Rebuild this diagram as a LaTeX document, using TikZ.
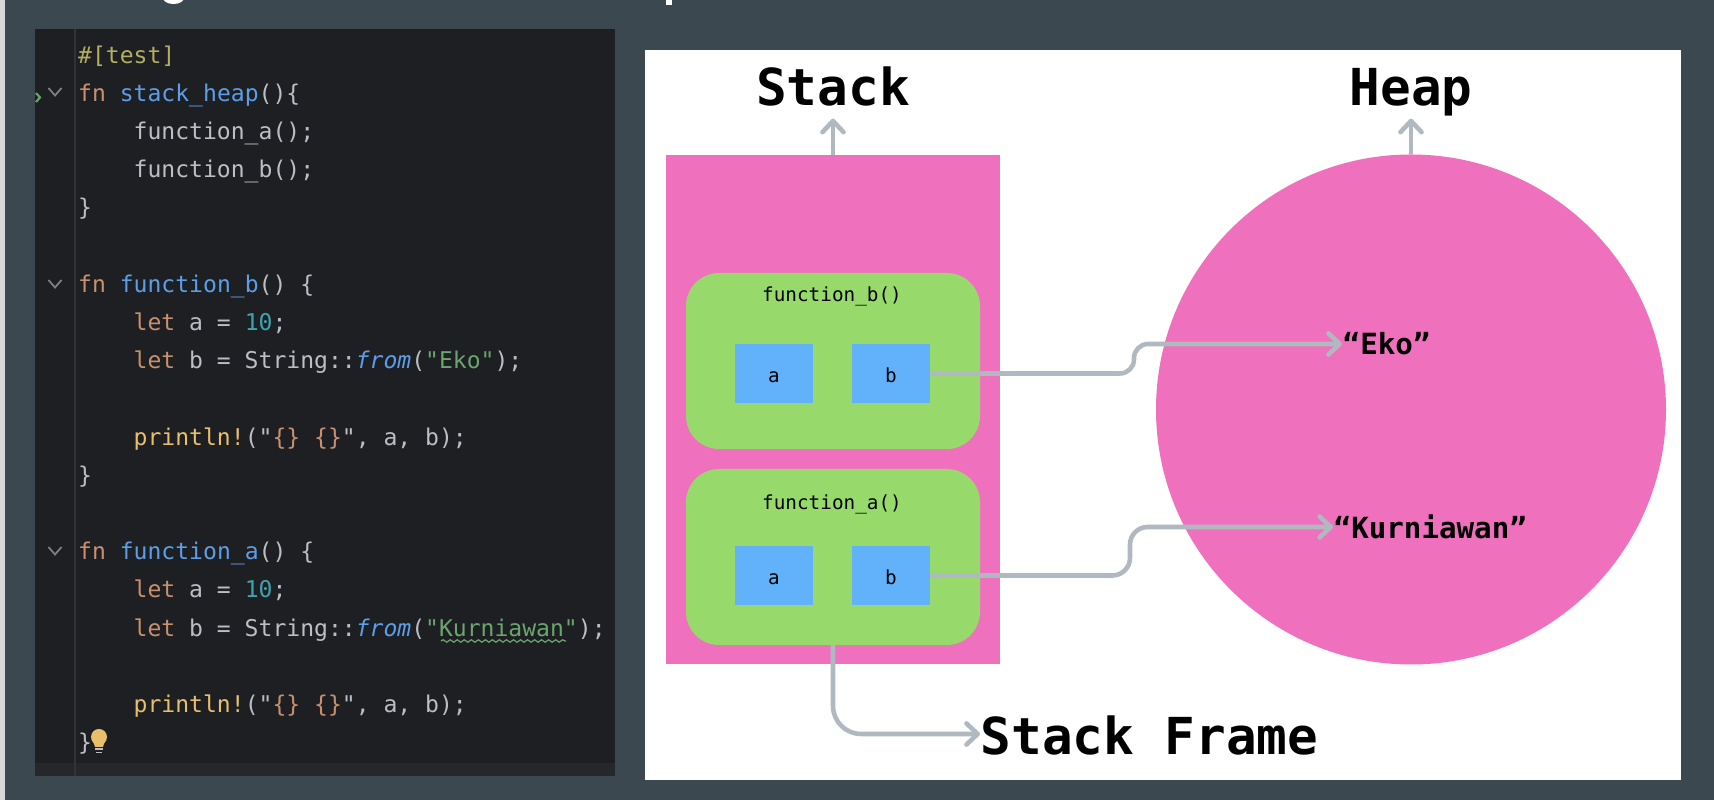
\documentclass[tikz,border=0pt]{standalone}
\usepackage{fontspec}
\setmonofont{DejaVu Sans Mono}
\usetikzlibrary{arrows.meta,decorations.pathmorphing}
\definecolor{slidebg}{HTML}{3C4850}
\definecolor{editorbg}{HTML}{1E1F23}
\definecolor{editorline}{HTML}{26272B}
\definecolor{guttercol}{HTML}{313338}
\definecolor{plaincol}{HTML}{BCBEC4}
\definecolor{kwcol}{HTML}{C8906E}
\definecolor{fncol}{HTML}{5C9EE8}
\definecolor{attrcol}{HTML}{B3AE60}
\definecolor{strcol}{HTML}{6AA56F}
\definecolor{numcol}{HTML}{3FA3AE}
\definecolor{maccol}{HTML}{E8BF6A}
\definecolor{stackpink}{HTML}{EF70BD}
\definecolor{framegreen}{HTML}{97D96B}
\definecolor{varblue}{HTML}{61B2FB}
\definecolor{linkgray}{HTML}{B0B8C0}
\tikzset{
    codeline/.style={anchor=base west, inner sep=0pt, text=plaincol, yshift=-0.012cm,
        font=\ttfamily\fontsize{6.56}{8}\selectfont},
    box/.style={inner sep=0pt, outer sep=0pt},
    stackframe/.style={box, fill=framegreen, rounded corners=9.4pt,
        minimum width=2.94cm, minimum height=1.76cm},
    varbox/.style={box, fill=varblue, minimum width=0.78cm, minimum height=0.59cm,
        text height=5pt, text depth=0pt,
        font=\ttfamily\fontsize{5.5}{7}\selectfont},
    smalllabel/.style={inner sep=0pt, font=\ttfamily\fontsize{5.5}{7}\selectfont},
    biglabel/.style={inner sep=0pt, font=\ttfamily\bfseries\fontsize{14.5}{16}\selectfont},
    heaplabel/.style={inner sep=0pt, anchor=west, font=\ttfamily\bfseries\fontsize{8.3}{10}\selectfont},
    link/.style={draw=linkgray, line width=1.3pt,
        -{Straight Barb[length=3.2pt,width=6pt,round]}},
}
\newcommand{\kw}[1]{\textcolor{kwcol}{#1}}
\newcommand{\fn}[1]{\textcolor{fncol}{#1}}
\newcommand{\str}[1]{\textcolor{strcol}{#1}}
\newcommand{\num}[1]{\textcolor{numcol}{#1}}
\newcommand{\mac}[1]{\textcolor{maccol}{#1}}
\newcommand{\fromcall}{\textcolor{fncol}{\itshape from}}
\begin{document}
\begin{tikzpicture}
    \useasboundingbox (0, 0) rectangle (17.14, 8);

    % Slide
    \fill[slidebg] (0, 0) rectangle (17.14, 8);
    \fill[gray!30] (0, 0) rectangle (0.05, 8);
    \fill[white] (1.735, 8.02) ellipse (0.105 and 0.06);
    \fill[white] (6.66, 7.95) rectangle (6.72, 8);

    % Editor
    \node[box, fill=editorbg, minimum width=5.80cm, minimum height=7.47cm] (editor) at (3.25, 3.975) {};
    \fill[editorline] (0.35, 0.24) rectangle (6.15, 0.37);
    \draw[guttercol, line width=0.3pt] (0.75, 0.24) -- (0.75, 7.71);
    \foreach \y in {7.08, 5.16, 2.49} {
        \draw[gray, line width=0.5pt] (0.485, \y + 0.04) -- (0.55, \y - 0.035) -- (0.615, \y + 0.04);
    }
    \draw[strcol, line width=0.6pt] (0.36, 7.07) -- (0.40, 7.025) -- (0.36, 6.98);

    % Code
    \node[codeline, text=attrcol] (line0) at (0.775, 7.38) {\#[test]};
    \node[codeline] (line1) at (0.775, 6.998) {\kw{fn} \fn{stack\_heap}()\{};
    \node[codeline] (line2) at (1.33, 6.616) {function\_a();};
    \node[codeline] (line3) at (1.33, 6.234) {function\_b();};
    \node[codeline] (line4) at (0.775, 5.852) {\}};
    \node[codeline] (line6) at (0.775, 5.088) {\kw{fn} \fn{function\_b}() \{};
    \node[codeline] (line7) at (1.33, 4.706) {\kw{let} a = \num{10};};
    \node[codeline] (line8) at (1.33, 4.324) {\kw{let} b = String::\fromcall(\str{"Eko"});};
    \node[codeline] (line10) at (1.33, 3.56) {\mac{println!}("\kw{\{\}} \kw{\{\}}", a, b);};
    \node[codeline] (line11) at (0.775, 3.178) {\}};
    \node[codeline] (line13) at (0.775, 2.414) {\kw{fn} \fn{function\_a}() \{};
    \node[codeline] (line14) at (1.33, 2.032) {\kw{let} a = \num{10};};
    \node[codeline] (line15) at (1.33, 1.65) {\kw{let} b = String::\fromcall(\str{"Kurniawan"});};
    \node[codeline] (line17) at (1.33, 0.886) {\mac{println!}("\kw{\{\}} \kw{\{\}}", a, b);};
    \node[codeline] (line18) at (0.775, 0.504) {\}};
    \draw[strcol, line width=0.35pt, decorate, decoration={snake, amplitude=0.35pt, segment length=2pt}] (4.41, 1.59) -- (5.66, 1.59);

    % Bulb
    \fill[maccol] (0.99, 0.63) circle (0.08);
    \fill[maccol] (0.93, 0.59) -- (1.05, 0.59) -- (1.03, 0.53) -- (0.95, 0.53) -- cycle;
    \draw[plaincol, line width=0.5pt] (0.95, 0.51) -- (1.03, 0.51);
    \draw[plaincol, line width=0.5pt] (0.96, 0.475) -- (1.02, 0.475);

    % Panel
    \node[box, fill=white, minimum width=10.36cm, minimum height=7.30cm] (panel) at (11.63, 3.85) {};

    % Stack and heap
    \node[box, fill=stackpink, minimum width=3.34cm, minimum height=5.09cm] (stack) at (8.33, 3.905) {};
    \node[box, fill=stackpink, circle, minimum size=5.10cm] (heap) at (14.11, 3.905) {};

    % Stack frames
    \node[stackframe] (frameb) at (8.33, 4.39) {};
    \node[stackframe] (framea) at (8.33, 2.43) {};
    \node[smalllabel] (nameb) at (8.32, 5.04) {function\_b()};
    \node[smalllabel] (namea) at (8.32, 2.96) {function\_a()};
    \node[varbox] (varba) at (7.74, 4.265) {a};
    \node[varbox] (varbb) at (8.91, 4.265) {b};
    \node[varbox] (varaa) at (7.74, 2.245) {a};
    \node[varbox] (varab) at (8.91, 2.245) {b};

    % Labels
    \node[biglabel, anchor=base, text depth=3.4pt] (stacklabel) at (8.33, 6.94) {Stack};
    \node[biglabel, anchor=base, text depth=3.4pt] (heaplabel) at (14.11, 6.94) {Heap};
    \node[biglabel, anchor=west, text height=11.4pt, text depth=0pt] (framelabel) at (9.80, 0.66) {Stack Frame};
    \node[heaplabel] (eko) at (13.42, 4.56) {“Eko”};
    \node[heaplabel] (kurniawan) at (13.33, 2.73) {“Kurniawan”};

    % Arrows
    \draw[link] (stack.north) -- (stacklabel.south);
    \draw[link] (heap.north) -- (heaplabel.south);
    \draw[link, rounded corners=4pt] (varbb.east) -- ++(2.04, 0) |- (eko.west);
    \draw[link, rounded corners=5pt] (varab.east) -- ++(2.00, 0) |- (kurniawan.west);
    \draw[link, rounded corners=8pt] (framea.south) |- (framelabel.west);
\end{tikzpicture}
\end{document}
